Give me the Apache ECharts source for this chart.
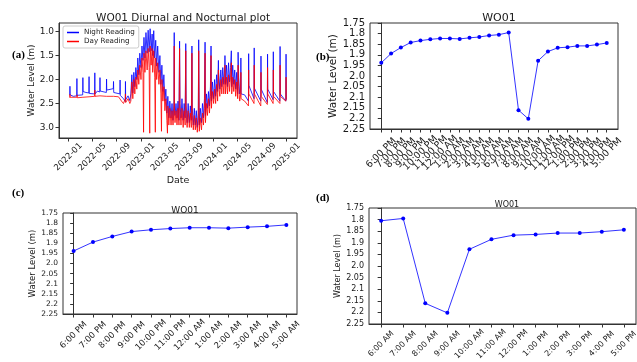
<!DOCTYPE html>
<html>
<head>
<meta charset="utf-8">
<script src="https://cdn.jsdelivr.net/npm/echarts@6/dist/echarts.min.js"></script>
<style>
  html, body { margin: 0; padding: 0; background: #fff; }
  #chart { width: 637px; height: 362px; }
</style>
</head>
<body>
<div id="chart"></div>
<script>
// (a) night / day readings, [date, water level m]
const nightReading = [
  ['2022-01-08', 2.33], ['2022-01-09', 2.14], ['2022-01-10', 2.32], ['2022-01-26', 2.35],
  ['2022-02-12', 2.34], ['2022-02-13', 1.98], ['2022-02-14', 2.33],
  ['2022-03-14', 2.32], ['2022-03-15', 1.96], ['2022-03-16', 2.25], ['2022-03-30', 2.27],
  ['2022-04-14', 2.28], ['2022-04-15', 1.94], ['2022-04-16', 2.29],
  ['2022-05-13', 2.3], ['2022-05-14', 1.86], ['2022-05-15', 2.3], ['2022-05-27', 2.24],
  ['2022-06-08', 2.26], ['2022-06-09', 1.96], ['2022-06-10', 2.24],
  ['2022-07-11', 2.27], ['2022-07-12', 1.99], ['2022-07-13', 2.22],
  ['2022-08-15', 2.19], ['2022-08-16', 2.04], ['2022-08-17', 2.27],
  ['2022-09-17', 2.3], ['2022-09-18', 2.01], ['2022-09-19', 2.33],
  ['2022-10-05', 2.4], ['2022-10-14', 2.46], ['2022-10-15', 2.04], ['2022-10-16', 2.42],
  ['2022-10-28', 2.34], ['2022-11-06', 2.44],
  ['2022-11-11', 2.3], ['2022-11-16', 1.9], ['2022-11-21', 2.28], ['2022-11-26', 1.85],
  ['2022-12-01', 2.15], ['2022-12-06', 1.75], ['2022-12-11', 2.0], ['2022-12-16', 1.55], ['2022-12-21', 1.9], ['2022-12-26', 1.45],
  ['2023-01-01', 1.75], ['2023-01-06', 1.3], ['2023-01-11', 1.6], ['2023-01-16', 1.12], ['2023-01-21', 1.55], ['2023-01-26', 1.02],
  ['2023-02-01', 1.45], ['2023-02-06', 0.97], ['2023-02-11', 1.42], ['2023-02-16', 0.94], ['2023-02-21', 1.4], ['2023-02-26', 1.05],
  ['2023-03-01', 1.5], ['2023-03-06', 0.98], ['2023-03-11', 1.55], ['2023-03-16', 1.18], ['2023-03-21', 1.72], ['2023-03-26', 1.3],
  ['2023-04-01', 1.85], ['2023-04-06', 1.5], ['2023-04-11', 2.1], ['2023-04-16', 1.7], ['2023-04-21', 2.25], ['2023-04-26', 1.9],
  ['2023-05-01', 2.45], ['2023-05-06', 2.2], ['2023-05-11', 2.7], ['2023-05-16', 2.35], ['2023-05-21', 2.8], ['2023-05-26', 2.45],
  ['2023-06-01', 2.8], ['2023-06-06', 2.5], ['2023-06-11', 2.85], ['2023-06-16', 2.45], ['2023-06-17', 1.02], ['2023-06-18', 2.5], ['2023-06-21', 2.75], ['2023-06-26', 2.5],
  ['2023-07-01', 2.8], ['2023-07-06', 2.45], ['2023-07-11', 2.85], ['2023-07-14', 1.2], ['2023-07-16', 2.5], ['2023-07-21', 2.8], ['2023-07-26', 2.4],
  ['2023-08-01', 2.85], ['2023-08-06', 2.5], ['2023-08-11', 2.8], ['2023-08-14', 1.25], ['2023-08-16', 2.55], ['2023-08-21', 2.9], ['2023-08-26', 2.5],
  ['2023-09-01', 2.9], ['2023-09-06', 2.55], ['2023-09-11', 2.85], ['2023-09-14', 1.3], ['2023-09-16', 2.6], ['2023-09-21', 2.95], ['2023-09-26', 2.6],
  ['2023-10-01', 2.95], ['2023-10-06', 2.65], ['2023-10-11', 3.0], ['2023-10-16', 2.7], ['2023-10-18', 1.17], ['2023-10-21', 2.95], ['2023-10-26', 2.6],
  ['2023-11-01', 2.9], ['2023-11-06', 2.5], ['2023-11-11', 2.8], ['2023-11-16', 2.4], ['2023-11-19', 1.22], ['2023-11-21', 2.75], ['2023-11-26', 2.3],
  ['2023-12-01', 2.6], ['2023-12-06', 2.25], ['2023-12-11', 2.55], ['2023-12-16', 2.15], ['2023-12-19', 1.3], ['2023-12-21', 2.45], ['2023-12-26', 2.05],
  ['2024-01-01', 2.4], ['2024-01-06', 2.0], ['2024-01-11', 2.35], ['2024-01-16', 1.9], ['2024-01-21', 2.25], ['2024-01-25', 1.6], ['2024-01-26', 1.85],
  ['2024-02-01', 2.2], ['2024-02-06', 1.8], ['2024-02-11', 2.15], ['2024-02-16', 1.75], ['2024-02-21', 2.1], ['2024-02-26', 1.7], ['2024-02-27', 1.5],
  ['2024-03-01', 2.1], ['2024-03-06', 1.7], ['2024-03-11', 2.15], ['2024-03-16', 1.65], ['2024-03-21', 2.05], ['2024-03-26', 1.75], ['2024-03-30', 1.4],
  ['2024-04-01', 2.15], ['2024-04-06', 1.7], ['2024-04-11', 2.1], ['2024-04-16', 1.8], ['2024-04-21', 2.2], ['2024-04-26', 1.85],
  ['2024-05-01', 2.3], ['2024-05-03', 1.43], ['2024-05-06', 1.95], ['2024-05-11', 2.3], ['2024-05-16', 2.2], ['2024-05-17', 1.55], ['2024-05-18', 2.3],
  ['2024-06-05', 2.32],
  ['2024-06-24', 2.45], ['2024-06-25', 1.46], ['2024-06-26', 2.12], ['2024-07-22', 2.4], ['2024-07-23', 1.34], ['2024-07-24', 2.18],
  ['2024-08-25', 2.45], ['2024-08-26', 1.51], ['2024-08-27', 2.2], ['2024-09-27', 2.48], ['2024-09-28', 1.47], ['2024-09-29', 2.2],
  ['2024-10-26', 2.42], ['2024-10-27', 1.42], ['2024-10-28', 2.25], ['2024-11-29', 2.45], ['2024-11-30', 1.31], ['2024-12-01', 2.3],
  ['2024-12-29', 2.45], ['2024-12-30', 1.47], ['2024-12-31', 2.42]
];

const dayReading = [
  ['2022-01-08', 2.38], ['2022-01-09', 2.31], ['2022-01-10', 2.37],
  ['2022-02-13', 2.37], ['2022-02-14', 2.32], ['2022-02-15', 2.38],
  ['2022-03-15', 2.37], ['2022-04-15', 2.36], ['2022-05-13', 2.35], ['2022-05-14', 2.22], ['2022-05-15', 2.35],
  ['2022-06-09', 2.34], ['2022-07-12', 2.35], ['2022-08-16', 2.35], ['2022-09-10', 2.36],
  ['2022-09-25', 2.45], ['2022-10-05', 2.5], ['2022-10-14', 2.4], ['2022-10-15', 2.3], ['2022-10-16', 2.48],
  ['2022-10-28', 2.4], ['2022-11-06', 2.5],
  ['2022-11-11', 2.45], ['2022-11-16', 2.05], ['2022-11-21', 2.4], ['2022-11-26', 2.0],
  ['2022-12-01', 2.3], ['2022-12-06', 1.95], ['2022-12-11', 2.2], ['2022-12-16', 1.8], ['2022-12-21', 2.1], ['2022-12-26', 1.7],
  ['2023-01-01', 2.0], ['2023-01-06', 1.55], ['2023-01-11', 1.85], ['2023-01-14', 3.1], ['2023-01-16', 1.45], ['2023-01-21', 1.85], ['2023-01-26', 1.4],
  ['2023-02-01', 1.8], ['2023-02-06', 1.35], ['2023-02-11', 1.75], ['2023-02-14', 3.12], ['2023-02-16', 1.3], ['2023-02-21', 1.7], ['2023-02-26', 1.35],
  ['2023-03-01', 1.85], ['2023-03-06', 1.4], ['2023-03-11', 1.95], ['2023-03-14', 3.1], ['2023-03-16', 1.55], ['2023-03-21', 2.0], ['2023-03-26', 1.65],
  ['2023-04-01', 2.1], ['2023-04-06', 1.8], ['2023-04-11', 2.3], ['2023-04-14', 3.08], ['2023-04-16', 2.0], ['2023-04-21', 2.45], ['2023-04-26', 2.15],
  ['2023-05-01', 2.65], ['2023-05-06', 2.4], ['2023-05-11', 2.85], ['2023-05-14', 3.12], ['2023-05-16', 2.55], ['2023-05-21', 2.95], ['2023-05-26', 2.6],
  ['2023-06-01', 2.95], ['2023-06-06', 2.65], ['2023-06-11', 2.95], ['2023-06-16', 2.6], ['2023-06-17', 1.3], ['2023-06-18', 2.65], ['2023-06-21', 2.9], ['2023-06-26', 2.65],
  ['2023-07-01', 2.95], ['2023-07-06', 2.6], ['2023-07-11', 2.95], ['2023-07-14', 1.35], ['2023-07-16', 2.65], ['2023-07-21', 2.95], ['2023-07-26', 2.6],
  ['2023-08-01', 3.0], ['2023-08-06', 2.65], ['2023-08-11', 2.95], ['2023-08-14', 1.4], ['2023-08-16', 2.7], ['2023-08-21', 3.0], ['2023-08-26', 2.65],
  ['2023-09-01', 3.0], ['2023-09-06', 2.7], ['2023-09-11', 3.0], ['2023-09-14', 1.45], ['2023-09-16', 2.75], ['2023-09-21', 3.05], ['2023-09-26', 2.75],
  ['2023-10-01', 3.05], ['2023-10-06', 2.8], ['2023-10-11', 3.1], ['2023-10-16', 2.85], ['2023-10-18', 1.4], ['2023-10-21', 3.08], ['2023-10-26', 2.8],
  ['2023-11-01', 3.05], ['2023-11-06', 2.7], ['2023-11-11', 2.95], ['2023-11-16', 2.6], ['2023-11-19', 1.45], ['2023-11-21', 2.9], ['2023-11-26', 2.5],
  ['2023-12-01', 2.75], ['2023-12-06', 2.4], ['2023-12-11', 2.7], ['2023-12-16', 2.35], ['2023-12-19', 1.5], ['2023-12-21', 2.6], ['2023-12-26', 2.25],
  ['2024-01-01', 2.5], ['2024-01-06', 2.2], ['2024-01-11', 2.5], ['2024-01-16', 2.1], ['2024-01-21', 2.45], ['2024-01-25', 1.8], ['2024-01-26', 2.05],
  ['2024-02-01', 2.35], ['2024-02-06', 2.0], ['2024-02-11', 2.3], ['2024-02-16', 1.95], ['2024-02-21', 2.3], ['2024-02-26', 1.95], ['2024-02-27', 1.7],
  ['2024-03-01', 2.3], ['2024-03-06', 1.95], ['2024-03-11', 2.3], ['2024-03-16', 1.9], ['2024-03-21', 2.25], ['2024-03-26', 1.95], ['2024-03-30', 1.65],
  ['2024-04-01', 2.3], ['2024-04-06', 1.95], ['2024-04-11', 2.25], ['2024-04-16', 2.0], ['2024-04-21', 2.35], ['2024-04-26', 2.05],
  ['2024-05-01', 2.4], ['2024-05-03', 1.7], ['2024-05-06', 2.15], ['2024-05-11', 2.45], ['2024-05-16', 2.3], ['2024-05-17', 1.85], ['2024-05-18', 2.4],
  ['2024-06-05', 2.45],
  ['2024-06-24', 2.55], ['2024-06-25', 1.8], ['2024-06-26', 2.3], ['2024-07-22', 2.5], ['2024-07-23', 1.7], ['2024-07-24', 2.3],
  ['2024-08-25', 2.55], ['2024-08-26', 1.85], ['2024-08-27', 2.35], ['2024-09-27', 2.52], ['2024-09-28', 1.75], ['2024-09-29', 2.3],
  ['2024-10-26', 2.5], ['2024-10-27', 1.8], ['2024-10-28', 2.35], ['2024-11-29', 2.5], ['2024-11-30', 1.7], ['2024-12-01', 2.35],
  ['2024-12-29', 2.45], ['2024-12-30', 1.95], ['2024-12-31', 2.42]
];

const dateTicks = ['2022-01', '2022-05', '2022-09', '2023-01', '2023-05', '2023-09', '2024-01', '2024-05', '2024-09', '2025-01'];
const levelTicksA = [1.0, 1.5, 2.0, 2.5, 3.0];

// (b) hourly mean over a day, (c) night hours, (d) day hours
const hours = ['6:00 PM', '7:00 PM', '8:00 PM', '9:00 PM', '10:00 PM', '11:00 PM', '12:00 AM', '1:00 AM',
  '2:00 AM', '3:00 AM', '4:00 AM', '5:00 AM', '6:00 AM', '7:00 AM', '8:00 AM', '9:00 AM', '10:00 AM',
  '11:00 AM', '12:00 PM', '1:00 PM', '2:00 PM', '3:00 PM', '4:00 PM', '5:00 PM'];
const hourlyLevel = [1.938, 1.894, 1.866, 1.842, 1.833, 1.827, 1.823, 1.823, 1.825, 1.820, 1.816, 1.809,
  1.805, 1.795, 2.161, 2.202, 1.928, 1.885, 1.867, 1.864, 1.858, 1.858, 1.852, 1.844];
const nightHours = hours.slice(0, 12);
const nightLevel = hourlyLevel.slice(0, 12);
const dayHours = hours.slice(12);
const dayLevel = hourlyLevel.slice(12);

const TXT = '#1a1a1a';
const toTime = d => new Date(d + 'T00:00:00').getTime();
const dateTickValues = dateTicks.map(d => toTime(d + '-01'));

function levelFmt(v) {
  let s = String(+v.toFixed(2));
  if (s.indexOf('.') < 0) s += '.0';
  return s;
}

function gridBox(left, top, width, height) {
  return { left, top, width, height, show: true, borderColor: '#333', borderWidth: 1,
    backgroundColor: 'transparent', containLabel: false, outerBoundsMode: 'none' };
}

function hourAxis(idx, labels, fs, margin) {
  const vals = labels.map((_, i) => i);
  const pad = (labels.length - 1) * 0.05;
  const lo = -pad, hi = labels.length - 1 + pad;
  // blank labels at both ends keep every real label from being dropped as overlapping
  return {
    type: 'value', gridIndex: idx, min: lo, max: hi,
    axisLine: { show: true, lineStyle: { color: '#333' } },
    axisTick: { show: true, customValues: vals, length: 3.5, lineStyle: { color: '#333' } },
    axisLabel: { customValues: [lo].concat(vals, [hi]), rotate: 45, align: 'center', verticalAlign: 'middle', margin: margin,
      hideOverlap: false,
      fontSize: fs, color: TXT, fontFamily: 'DejaVu Sans',
      formatter: v => (Number.isInteger(v) ? labels[v] : '') },
    splitLine: { show: false }
  };
}

function levelAxis(idx, fs, nameFs, nameGap) {
  return {
    type: 'value', gridIndex: idx, inverse: true, min: 1.75, max: 2.25, interval: 0.05,
    name: 'Water Level (m)', nameLocation: 'middle', nameGap: nameGap,
    nameTextStyle: { fontSize: nameFs, color: TXT, fontFamily: 'DejaVu Sans' },
    axisLine: { show: true, lineStyle: { color: '#333' } },
    axisTick: { show: true, length: 3.5, lineStyle: { color: '#333' } },
    axisLabel: { fontSize: fs, color: TXT, margin: 5, fontFamily: 'DejaVu Sans', formatter: levelFmt,
      showMinLabel: true, showMaxLabel: true },
    splitLine: { show: false }
  };
}

function hourSeries(idx, levels) {
  return {
    type: 'line', xAxisIndex: idx, yAxisIndex: idx,
    data: levels.map((v, i) => [i, v]),
    symbol: 'circle', symbolSize: 4,
    itemStyle: { color: '#0000ff' },
    lineStyle: { color: '#0000ff', width: 1, opacity: 0.8 },
    emphasis: { disabled: true }
  };
}

function panelTag(text, left, top) {
  return { text, left, top, textStyle: { fontSize: 11, fontWeight: 'bold', color: '#000', fontFamily: 'Liberation Serif' } };
}

const chart = echarts.init(document.getElementById('chart'), null, { renderer: 'canvas' });

chart.setOption({
  animation: false,
  backgroundColor: '#fff',
  textStyle: { fontFamily: 'DejaVu Sans' },
  title: [
    { text: 'WO01 Diurnal and Nocturnal plot', left: 178, top: 8, textAlign: 'center',
      textStyle: { fontSize: 10.5, fontWeight: 'normal', color: TXT, fontFamily: 'DejaVu Sans' } },
    { text: 'WO01', left: 494, top: 8, textAlign: 'center',
      textStyle: { fontSize: 11, fontWeight: 'normal', color: TXT, fontFamily: 'DejaVu Sans' } },
    { text: 'WO01', left: 180, top: 201, textAlign: 'center',
      textStyle: { fontSize: 9, fontWeight: 'normal', color: TXT, fontFamily: 'DejaVu Sans' } },
    { text: 'WO01', left: 502, top: 196, textAlign: 'center',
      textStyle: { fontSize: 8, fontWeight: 'normal', color: TXT, fontFamily: 'DejaVu Sans' } },
    panelTag('(a)', 7, 45),
    panelTag('(b)', 311, 47),
    panelTag('(c)', 7, 183),
    panelTag('(d)', 311, 188)
  ],
  legend: {
    left: 63, top: 26, orient: 'vertical', itemGap: 2, itemWidth: 12, itemHeight: 1.5,
    padding: [3, 4], borderColor: '#ccc', borderWidth: 1, borderRadius: 2,
    backgroundColor: 'rgba(255,255,255,0.85)',
    textStyle: { fontSize: 7.2, color: TXT, fontFamily: 'DejaVu Sans' },
    data: [{ name: 'Night Reading', icon: 'rect' }, { name: 'Day Reading', icon: 'rect' }]
  },
  grid: [
    gridBox(59, 23, 238, 115),
    gridBox(370, 23, 248, 106),
    gridBox(63, 213, 234, 101),
    gridBox(369, 208, 267, 116)
  ],
  xAxis: [
    {
      type: 'value', gridIndex: 0, min: toTime('2021-11-15'), max: toTime('2025-02-23'),
      name: 'Date', nameLocation: 'middle', nameGap: 38,
      nameTextStyle: { fontSize: 9.5, color: TXT, fontFamily: 'DejaVu Sans' },
      axisLine: { show: true, lineStyle: { color: '#333' } },
      axisTick: { show: true, customValues: dateTickValues, length: 3.5, lineStyle: { color: '#333' } },
      axisLabel: { customValues: dateTickValues, rotate: 45, align: 'center', verticalAlign: 'middle', margin: 19,
        showMinLabel: true, showMaxLabel: true, hideOverlap: false,
        fontSize: 8.5, color: TXT, fontFamily: 'DejaVu Sans',
        formatter: v => { const i = dateTickValues.indexOf(+v); return i >= 0 ? dateTicks[i] : ''; } },
      splitLine: { show: false }
    },
    hourAxis(1, hours, 9.5, 24),
    hourAxis(2, nightHours, 8.5, 21),
    hourAxis(3, dayHours, 8, 20)
  ],
  yAxis: [
    {
      type: 'value', gridIndex: 0, inverse: true, min: 0.82, max: 3.22,
      name: 'Water Level (m)', nameLocation: 'middle', nameGap: 19,
      nameTextStyle: { fontSize: 9, color: TXT, fontFamily: 'DejaVu Sans' },
      axisLine: { show: true, lineStyle: { color: '#333' } },
      axisTick: { show: true, customValues: levelTicksA, length: 3.5, lineStyle: { color: '#333' } },
      axisLabel: { customValues: levelTicksA, fontSize: 9, color: TXT, margin: 5, fontFamily: 'DejaVu Sans',
        formatter: v => v.toFixed(1) },
      splitLine: { show: false }
    },
    levelAxis(1, 10, 10.5, 26),
    levelAxis(2, 7.5, 8.5, 25),
    levelAxis(3, 8, 8, 27)
  ],
  series: [
    {
      name: 'Night Reading', type: 'line', xAxisIndex: 0, yAxisIndex: 0,
      data: nightReading.map(p => [toTime(p[0]), p[1]]), showSymbol: false, symbol: 'none',
      itemStyle: { color: '#0000ff' },
      lineStyle: { color: '#0000ff', width: 1, opacity: 0.8 },
      emphasis: { disabled: true }
    },
    {
      name: 'Day Reading', type: 'line', xAxisIndex: 0, yAxisIndex: 0,
      data: dayReading.map(p => [toTime(p[0]), p[1]]), showSymbol: false, symbol: 'none',
      itemStyle: { color: '#ff0000' },
      lineStyle: { color: '#ff0000', width: 1, opacity: 0.8 },
      emphasis: { disabled: true }
    },
    hourSeries(1, hourlyLevel),
    hourSeries(2, nightLevel),
    hourSeries(3, dayLevel)
  ]
});
</script>
</body>
</html>
